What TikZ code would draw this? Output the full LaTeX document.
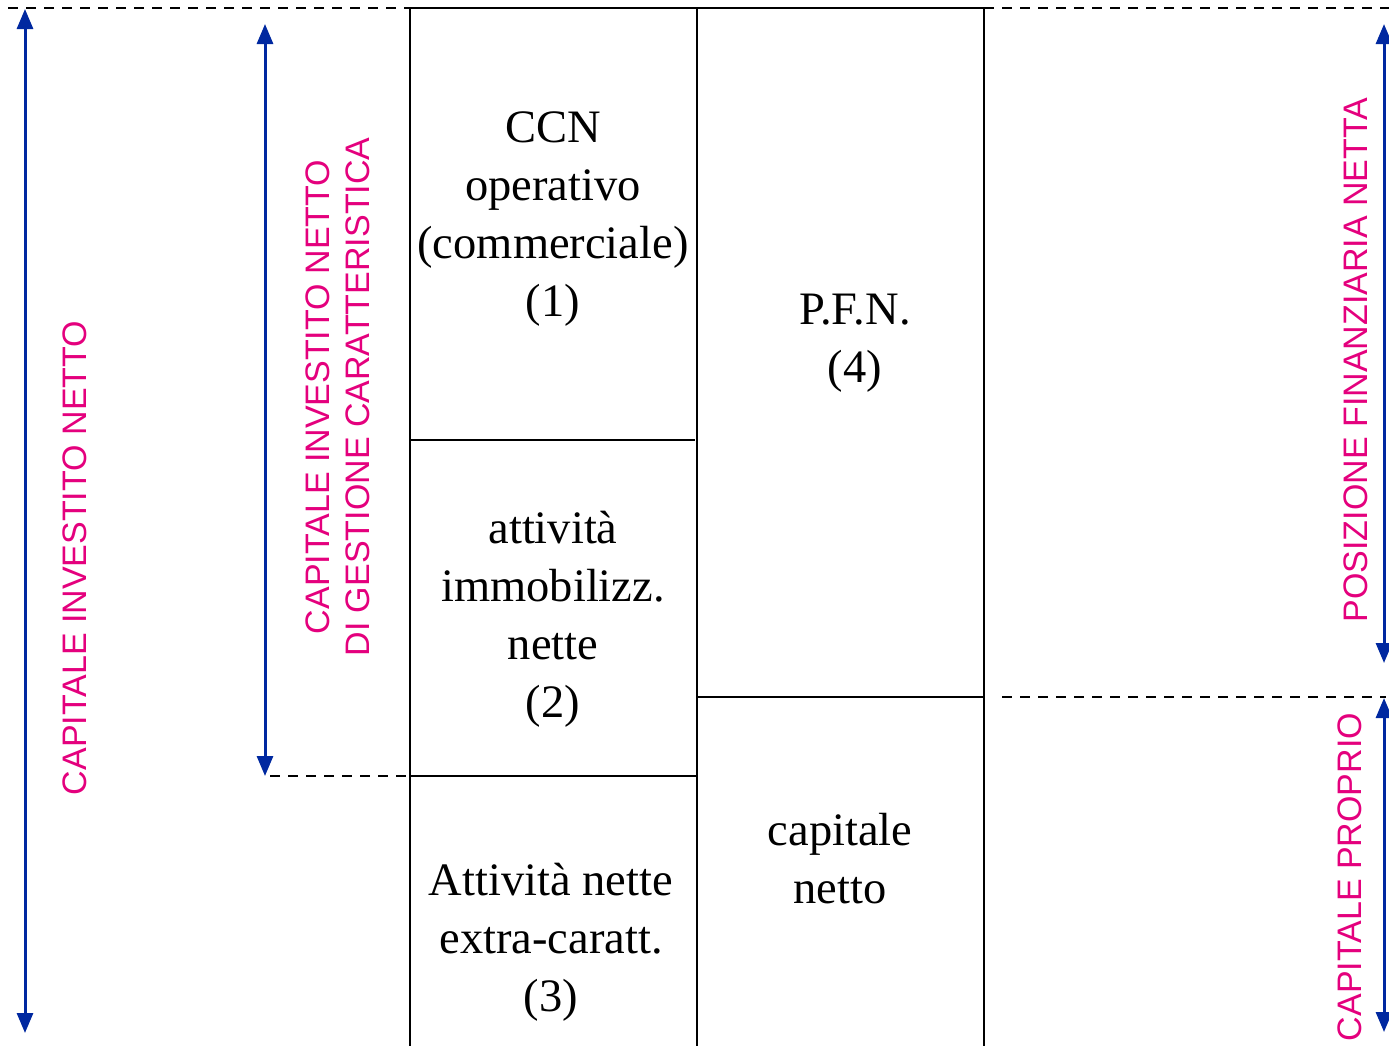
\documentclass[tikz,border=0pt]{standalone}
\usepackage{fontspec}
\setmainfont{Liberation Serif}
\setsansfont{Liberation Sans}
\usetikzlibrary{arrows.meta}
\definecolor{arrblue}{RGB}{0,40,160}
\definecolor{lblmag}{RGB}{228,0,125}
\begin{document}
\begin{tikzpicture}[x=1pt,y=-1pt,
  boxline/.style={line width=2.8pt,black},
  dashline/.style={line width=2.8pt,black,dash pattern=on 10pt off 8pt},
  dimarrow/.style={line width=3pt,arrblue,{Triangle[width=16pt,length=20pt]}-{Triangle[width=16pt,length=20pt]}},
  boxtext/.style={align=center,font=\fontsize{46.5}{58}\selectfont,inner sep=0pt},
  sidelbl/.style={align=center,rotate=90,text=lblmag,font=\sffamily\fontsize{34}{40}\selectfont,inner sep=0pt}]
\useasboundingbox (0,0) rectangle (1389,1045);
% frame coordinates
\coordinate (tl) at (410,8);
\coordinate (tm) at (697,8);
\coordinate (tr) at (984,8);
\coordinate (bl) at (410,1050);
\coordinate (bm) at (697,1050);
\coordinate (br) at (984,1050);
\coordinate (h1a) at (410,440);
\coordinate (h1b) at (695,440);
\coordinate (h2a) at (410,776);
\coordinate (h2b) at (697,776);
\coordinate (h3a) at (697,697);
\coordinate (h3b) at (984,697);
% dashed guides
\coordinate (dl0) at (8,8);
\coordinate (dr1) at (1389,8);
\coordinate (dm0) at (270,776);
\coordinate (dp0) at (1002,697);
\coordinate (dp1) at (1386,697);
% box lines
\draw[boxline] (tl) -- (tr);
\draw[boxline] (tl) -- (bl);
\draw[boxline] (tm) -- (bm);
\draw[boxline] (tr) -- (br);
\draw[boxline] (h1a) -- (h1b);
\draw[boxline] (h2a) -- (h2b);
\draw[boxline] (h3a) -- (h3b);
% dashed lines
\draw[dashline] (dl0) -- (tl);
\draw[dashline] (tr) -- (dr1);
\draw[dashline] (dm0) -- (h2a);
\draw[dashline] (dp0) -- (dp1);
% arrows
\coordinate (a1t) at (25,9);
\coordinate (a1b) at (25,1033);
\coordinate (a2t) at (265,24);
\coordinate (a2b) at (265,776);
\coordinate (a3t) at (1384,24);
\coordinate (a3b) at (1384,663);
\coordinate (a4t) at (1384,698);
\coordinate (a4b) at (1384,1032);
\draw[dimarrow] (a1t) -- (a1b);
\draw[dimarrow] (a2t) -- (a2b);
\draw[dimarrow] (a3t) -- (a3b);
\draw[dimarrow] (a4t) -- (a4b);
% box texts
\node[boxtext] (ccn) at (553,219) {CCN\\operativo\\(commerciale)\\(1)};
\node[boxtext] (imm) at (553,619) {attività\\immobilizz.\\nette\\(2)};
\node[boxtext] (extra) at (551,942) {Attività nette\\extra-caratt.\\(3)};
\node[boxtext] (pfn) at (855,343) {P.F.N.\\(4)};
\node[boxtext] (cn) at (840,859) {capitale\\netto};
% side labels
\node[sidelbl] (cin) at (75,558) {CAPITALE INVESTITO NETTO};
\node[sidelbl] (cing) at (338,397) {CAPITALE INVESTITO NETTO\\DI GESTIONE CARATTERISTICA};
\node[sidelbl] (posfn) at (1356,360) {POSIZIONE FINANZIARIA NETTA};
\node[sidelbl] (capp) at (1350,877) {CAPITALE PROPRIO};
\end{tikzpicture}
\end{document}
